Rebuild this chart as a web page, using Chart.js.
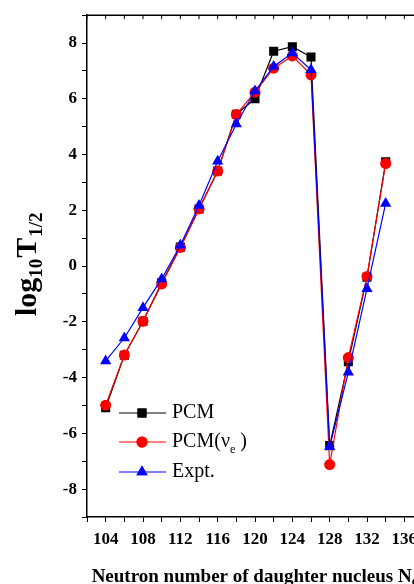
<!DOCTYPE html>
<html>
<head>
<meta charset="utf-8">
<script src="https://cdn.jsdelivr.net/npm/chart.js@4/dist/chart.umd.min.js"></script>
<style>
html,body{margin:0;padding:0;background:#fff;overflow:hidden;width:414px;height:584px;}
#wrap{position:absolute;left:0;top:0;width:440px;height:584px;}
</style>
</head>
<body>
<div id="wrap"><canvas id="c" width="440" height="584"></canvas></div>
<script>
const neutronNumbers = [104,106,108,110,112,114,116,118,120,122,124,126,128,130,132,134];
const pcm      = [-5.08,-3.2,-1.98,-0.6,0.68,2.05,3.41,5.45,6.0,7.71,7.87,7.5,-6.44,-3.43,-0.4,3.74];
const pcmNue   = [-4.99,-3.19,-1.98,-0.64,0.67,2.05,3.41,5.44,6.24,7.10,7.54,6.86,-7.12,-3.28,-0.37,3.68];
const expt     = [-3.40,-2.58,-1.49,-0.46,0.75,2.17,3.76,5.10,6.28,7.16,7.64,7.04,-6.48,-3.81,-0.81,2.25];
const xTickLabels = [104,108,112,116,120,124,128,132,136];
const yTickLabels = [-8,-6,-4,-2,0,2,4,6,8];
const seriesNames = ['PCM','PCM(ν','Expt.'];

const SERIF = '"Liberation Serif","Times New Roman",serif';
const toPts = arr => arr.map((v,i)=>({x:neutronNumbers[i], y:v}));

const extras = {
  id:'extras',
  afterDraw(chart){
    const ctx = chart.ctx, xs = chart.scales.x, ca = chart.chartArea;
    ctx.save();
    // top axis line and inward ticks
    ctx.strokeStyle = '#000'; ctx.lineWidth = 1.5;
    ctx.beginPath(); ctx.moveTo(ca.left, ca.top); ctx.lineTo(ca.right, ca.top); ctx.stroke();
    ctx.beginPath(); ctx.moveTo(ca.right, ca.top); ctx.lineTo(ca.right, ca.bottom); ctx.stroke();
    ctx.lineWidth = 1;
    xs.ticks.forEach(t=>{
      const px = xs.getPixelForValue(t.value);
      ctx.beginPath(); ctx.moveTo(px, ca.top); ctx.lineTo(px, ca.top+4); ctx.stroke();
    });
    // y title with subscripts
    ctx.fillStyle = '#000';
    ctx.translate(36, 316);
    ctx.rotate(-Math.PI/2);
    ctx.textBaseline = 'alphabetic'; ctx.textAlign = 'left';
    let x = 0;
    const big = 'bold 30px '+SERIF, small = 'bold 19px '+SERIF;
    ctx.font = big; ctx.fillText('log', x, 0); x += ctx.measureText('log').width;
    ctx.font = small; ctx.fillText('10', x, 6); x += ctx.measureText('10').width + 1;
    ctx.font = big; ctx.fillText('T', x, 0); x += ctx.measureText('T').width + 1;
    ctx.font = small; ctx.fillText('1/2', x, 6);
    ctx.restore();

    // x title
    ctx.save();
    ctx.fillStyle = '#000';
    ctx.textBaseline = 'alphabetic'; ctx.textAlign = 'left';
    const main = 'Neutron number of daughter nucleus N';
    ctx.font = 'bold 19px '+SERIF;
    const w1 = ctx.measureText(main).width;
    ctx.font = 'bold 12px '+SERIF;
    const w2 = ctx.measureText('d').width;
    const cx = (ca.left + ca.right)/2;
    const sx = cx - (w1+w2)/2;
    ctx.font = 'bold 19px '+SERIF;
    ctx.fillText(main, sx, 582);
    ctx.font = 'bold 12px '+SERIF;
    ctx.fillText('d', sx + w1, 585);
    ctx.restore();

    // legend
    ctx.save();
    const rows = [
      {y:413, color:'#000', style:'rect', r:6.4},
      {y:442, color:'#ff0000', style:'circle', r:5.5},
      {y:472, color:'#0000ff', style:'triangle', r:6.5}
    ];
    rows.forEach((row,i)=>{
      ctx.strokeStyle = row.color; ctx.lineWidth = 1;
      ctx.beginPath(); ctx.moveTo(119,row.y); ctx.lineTo(166,row.y); ctx.stroke();
      ctx.fillStyle = row.color;
      Chart.helpers.drawPoint(ctx, {pointStyle:row.style, radius:row.r, borderWidth:0}, 142, row.y);
      ctx.fill();
      ctx.fillStyle = '#000';
      ctx.font = '20px '+SERIF; ctx.textBaseline = 'middle'; ctx.textAlign = 'left';
      ctx.fillText(seriesNames[i], 172, row.y);
      if (i===1){
        const w = ctx.measureText(seriesNames[i]).width;
        ctx.font = '12px '+SERIF;
        ctx.fillText('e', 172 + w, row.y + 8);
        const we = ctx.measureText('e').width;
        ctx.font = '20px '+SERIF;
        ctx.fillText(' )', 172 + w + we, row.y);
      }
    });
    ctx.restore();
  }
};

const mk = (label, data, color, style, r, order) => ({
  label, data: toPts(data), borderColor: color, backgroundColor: color,
  borderWidth: 1.2, pointStyle: style, pointRadius: r, pointHoverRadius: r,
  pointBorderWidth: 0, pointBackgroundColor: color, tension: 0, order
});

new Chart(document.getElementById('c'), {
  type: 'line',
  data: {
    datasets: [
      mk('PCM', pcm, '#000000', 'rect', 6.4, 2),
      mk('PCM(νe)', pcmNue, '#ff0000', 'circle', 5.5, 1),
      mk('Expt.', expt, '#0000ff', 'triangle', 6.5, 0)
    ]
  },
  options: {
    responsive: false, animation: false, devicePixelRatio: 1,
    layout: { padding: { top: 10, right: 17, left: 0, bottom: 0 } },
    plugins: { legend: { display: false }, tooltip: { enabled: false } },
    scales: {
      x: {
        type: 'linear', min: 102, max: 138,
        border: { color: '#000', width: 1.5 },
        grid: { drawOnChartArea: false, tickLength: 5, color: '#000', tickWidth: 1 },
        ticks: {
          stepSize: 2, autoSkip: false, maxRotation: 0, padding: 7, color: '#000',
          font: { family: SERIF, size: 17, weight: 'bold' },
          callback: v => xTickLabels.includes(v) ? String(v) : ''
        },
        afterFit: s => { s.height = 67; }
      },
      y: {
        min: -9, max: 9,
        border: { color: '#000', width: 1.5 },
        grid: { drawOnChartArea: false, tickLength: 5, color: '#000', tickWidth: 1 },
        ticks: {
          stepSize: 1, autoSkip: false, padding: 5, color: '#000',
          font: { family: SERIF, size: 17, weight: 'bold' },
          callback: v => yTickLabels.includes(v) ? String(v) : ''
        },
        afterFit: s => { s.width = 87; }
      }
    }
  },
  plugins: [extras]
});
</script>
</body>
</html>
